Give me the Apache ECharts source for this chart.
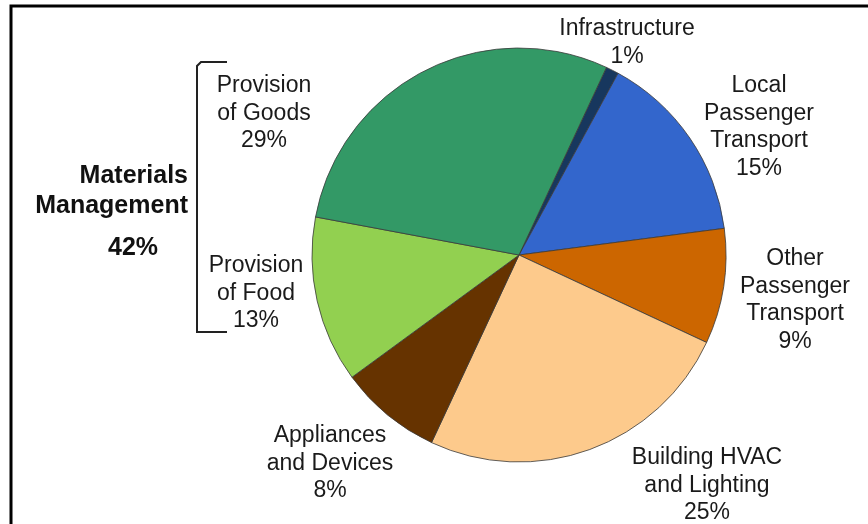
<!DOCTYPE html>
<html>
<head>
<meta charset="utf-8">
<script src="https://cdn.jsdelivr.net/npm/echarts@6/dist/echarts.min.js"></script>
<style>
html,body{margin:0;padding:0;background:#fff;}
#chart{width:868px;height:524px;}
</style>
</head>
<body>
<div id="chart"></div>
<script>
// Data (clockwise order starting near top)
const categories = [
  "Infrastructure",
  "Local\nPassenger\nTransport",
  "Other\nPassenger\nTransport",
  "Building HVAC\nand Lighting",
  "Appliances\nand Devices",
  "Provision\nof Food",
  "Provision\nof Goods"
];
const values = [1, 15, 9, 25, 8, 13, 29];
const groupLabel = "Materials\nManagement";
const groupValue = "42%";

const colors = ["#17375e", "#3366cc", "#cc6600", "#fdca8c", "#663300", "#92d050", "#339966"];
// label anchor positions (center x, top y) for each slice
const labelPos = [
  [627, 15], [759, 72], [795, 245], [707, 444], [330, 422], [256, 252], [264, 72]
];

const chart = echarts.init(document.getElementById('chart'));
chart.setOption({
  animation: false,
  backgroundColor: '#ffffff',
  graphic: [
    { type: 'rect', shape: { x: 11, y: 6, width: 870, height: 530 },
      style: { fill: 'none', stroke: '#000', lineWidth: 3 }, z: 100 },
    { type: 'polyline', shape: { points: [[227, 62], [201, 62], [197, 66], [197, 332], [227, 332]] },
      style: { fill: 'none', stroke: '#222', lineWidth: 2 } },
    { type: 'text', style: { text: groupLabel, x: 188, y: 161, align: 'right', verticalAlign: 'top',
      font: 'bold 25px "Liberation Sans", Arial, sans-serif', lineHeight: 30, fill: '#111' } },
    { type: 'text', style: { text: groupValue, x: 133, y: 236, align: 'center', verticalAlign: 'top',
      font: 'bold 25px "Liberation Sans", Arial, sans-serif', fill: '#111' } }
  ],
  series: [{
    type: 'pie',
    center: [519, 255],
    radius: 207,
    startAngle: 65,
    clockwise: true,
    avoidLabelOverlap: false,
    data: categories.map((c, i) => ({ name: c, value: values[i], itemStyle: { color: colors[i] } })),
    itemStyle: { borderColor: '#3a3a3a', borderWidth: 0.8 },
    label: {
      show: true,
      position: 'outside',
      formatter: p => p.name + '\n' + p.value + '%',
      fontFamily: '"Liberation Sans", Arial, sans-serif',
      fontSize: 23,
      lineHeight: 27.6,
      color: '#1a1a1a',
      align: 'center'
    },
    labelLine: { show: false },
    labelLayout: function (params) {
      const p = labelPos[params.dataIndex];
      return { x: p[0], y: p[1], align: 'center', verticalAlign: 'top' };
    }
  }]
});
</script>
</body>
</html>
